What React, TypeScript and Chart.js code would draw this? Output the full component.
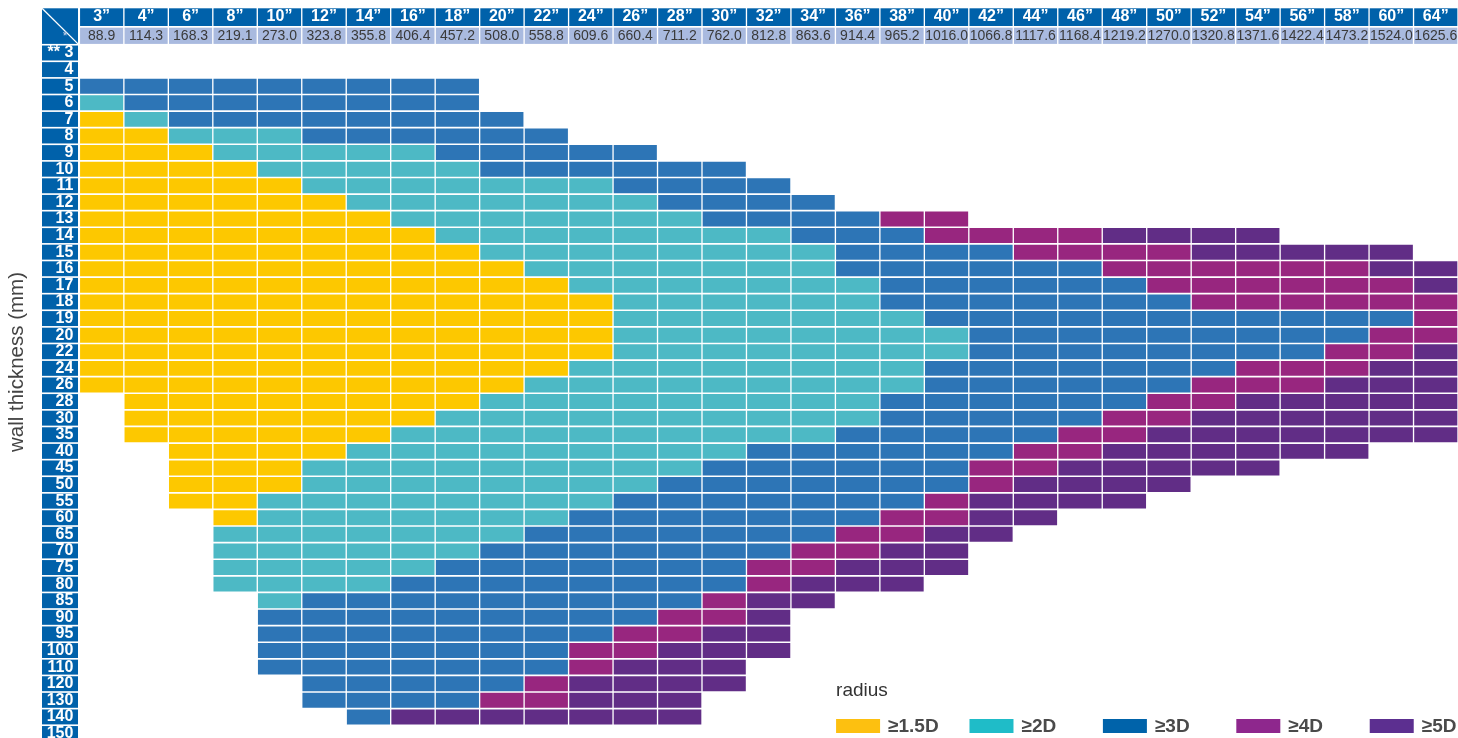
import React, { useEffect, useRef } from 'react';
import { Chart, registerables } from 'chart.js';

Chart.register(...registerables);

// Pipe outside diameters (columns)
const pipeInch = ['3”', '4”', '6”', '8”', '10”', '12”', '14”', '16”', '18”', '20”', '22”', '24”', '26”', '28”', '30”', '32”', '34”', '36”', '38”', '40”', '42”', '44”', '46”', '48”', '50”', '52”', '54”', '56”', '58”', '60”', '64”'];
const pipeMm = ['88.9', '114.3', '168.3', '219.1', '273.0', '323.8', '355.8', '406.4', '457.2', '508.0', '558.8', '609.6', '660.4', '711.2', '762.0', '812.8', '863.6', '914.4', '965.2', '1016.0', '1066.8', '1117.6', '1168.4', '1219.2', '1270.0', '1320.8', '1371.6', '1422.4', '1473.2', '1524.0', '1625.6'];

// Wall thickness (rows)
const wallMm = ['** 3', '4', '5', '6', '7', '8', '9', '10', '11', '12', '13', '14', '15', '16', '17', '18', '19', '20', '22', '24', '26', '28', '30', '35', '40', '45', '50', '55', '60', '65', '70', '75', '80', '85', '90', '95', '100', '110', '120', '130', '140', '150'];

// Minimum bend radius class per cell, as runs "code x count" from the 3” column
// 0 = not available, 1 = ≥1.5D, 2 = ≥2D, 3 = ≥3D, 4 = ≥4D, 5 = ≥5D
const wallRuns = [
  '',
  '',
  '3x9',
  '2x1 3x8',
  '1x1 2x1 3x8',
  '1x2 2x3 3x6',
  '1x3 2x5 3x5',
  '1x4 2x5 3x6',
  '1x5 2x7 3x4',
  '1x6 2x7 3x4',
  '1x7 2x7 3x4 4x2',
  '1x8 2x8 3x3 4x4 5x4',
  '1x9 2x8 3x4 4x4 5x5',
  '1x10 2x7 3x6 4x6 5x2',
  '1x11 2x7 3x6 4x6 5x1',
  '1x12 2x6 3x7 4x6',
  '1x12 2x7 3x11 4x1',
  '1x12 2x8 3x9 4x2',
  '1x12 2x8 3x8 4x2 5x1',
  '1x11 2x8 3x7 4x3 5x2',
  '1x10 2x9 3x6 4x3 5x3',
  '0x1 1x8 2x9 3x6 4x2 5x5',
  '0x1 1x7 2x10 3x5 4x2 5x6',
  '0x1 1x6 2x10 3x5 4x2 5x7',
  '0x2 1x4 2x9 3x6 4x2 5x6',
  '0x2 1x3 2x9 3x6 4x2 5x5',
  '0x2 1x3 2x8 3x7 4x1 5x4',
  '0x2 1x2 2x8 3x7 4x1 5x4',
  '0x3 1x1 2x7 3x7 4x2 5x2',
  '0x3 2x7 3x7 4x2 5x2',
  '0x3 2x6 3x7 4x2 5x2',
  '0x3 2x5 3x7 4x2 5x3',
  '0x3 2x4 3x8 4x1 5x3',
  '0x4 2x1 3x9 4x1 5x2',
  '0x4 3x9 4x2 5x1',
  '0x4 3x8 4x2 5x2',
  '0x4 3x7 4x2 5x3',
  '0x4 3x7 4x1 5x3',
  '0x5 3x5 4x1 5x4',
  '0x5 3x4 4x2 5x3',
  '0x6 3x1 5x7',
  '',
];

const radiusTitle = 'radius';
const radiusLabels = ['≥1.5D', '≥2D', '≥3D', '≥4D', '≥5D'];
const cellColors = ['#FDC800', '#4DB9C5', '#2D75B6', '#98267F', '#612D86'];
const legendColors = ['#FDC010', '#1FBCC8', '#0063AA', '#8E278D', '#5C2F90'];
const yTitle = 'wall thickness (mm)';

const HEADER_BLUE = '#0061AA';
const MM_BG = '#A9BADF';
const SANS = '"Liberation Sans", Arial, Helvetica, sans-serif';
const CAT_PCT = 0.97;

function decodeRow(runs: string): number[] {
  const out: number[] = [];
  runs.split(' ').filter(Boolean).forEach((tok) => {
    const [code, n] = tok.split('x').map(Number);
    for (let i = 0; i < n; i++) out.push(code);
  });
  while (out.length < pipeInch.length) out.push(0);
  return out;
}

const decorPlugin = {
  id: 'pipeDecor',
  beforeDraw(chart: any) {
    const { ctx, chartArea } = chart;
    const xs = chart.scales.x;
    const xm = chart.scales.xmm;
    const ys = chart.scales.y;
    const colW = xs.getPixelForTick(1) - xs.getPixelForTick(0);
    const cellW = colW * CAT_PCT;
    ctx.save();
    pipeInch.forEach((_, i) => {
      const cx = xs.getPixelForTick(i);
      ctx.fillStyle = HEADER_BLUE;
      ctx.fillRect(cx - cellW / 2, xs.top + 0.3, cellW, xs.bottom - xs.top - 1.3);
      ctx.fillStyle = MM_BG;
      ctx.fillRect(cx - cellW / 2, xm.top + 0.7, cellW, xm.bottom - xm.top - 1.5);
    });
    const boxL = chartArea.left - 37.4;
    const boxW = 36;
    ctx.fillStyle = HEADER_BLUE;
    wallMm.forEach((_, r) => {
      const t = ys.getPixelForValue(r + 0.05);
      const b = ys.getPixelForValue(r + 0.95);
      ctx.fillRect(boxL, t, boxW, b - t);
    });
    const ct = xs.top + 0.3;
    const cb = xm.bottom - 0.8;
    ctx.fillRect(boxL, ct, boxW, cb - ct);
    ctx.strokeStyle = '#ffffff';
    ctx.lineWidth = 1.3;
    ctx.beginPath();
    ctx.moveTo(boxL, ct);
    ctx.lineTo(boxL + boxW, cb);
    ctx.stroke();
    ctx.fillStyle = '#c9d3ea';
    ctx.font = `12px ${SANS}`;
    ctx.textAlign = 'center';
    ctx.textBaseline = 'middle';
    ctx.fillText('*', boxL + 23, cb - 7);
    ctx.restore();
  },
  afterDraw(chart: any) {
    const { ctx, chartArea } = chart;
    const xs = chart.scales.x;
    const colW = xs.getPixelForTick(1) - xs.getPixelForTick(0);
    const cellW = colW * CAT_PCT;
    ctx.save();
    // y title
    ctx.translate(17.5, 362);
    ctx.rotate(-Math.PI / 2);
    ctx.fillStyle = '#444444';
    ctx.font = `20.5px ${SANS}`;
    ctx.textAlign = 'center';
    ctx.textBaseline = 'middle';
    ctx.fillText(yTitle, 0, 0);
    ctx.restore();

    // legend
    ctx.save();
    ctx.textAlign = 'left';
    ctx.textBaseline = 'middle';
    const lx = xs.getPixelForTick(17) - cellW / 2;
    ctx.fillStyle = '#333333';
    ctx.font = `19px ${SANS}`;
    ctx.fillText(radiusTitle, lx, chartArea.bottom - 47);
    radiusLabels.forEach((lab, i) => {
      const sx = xs.getPixelForTick(17 + 3 * i) - cellW / 2;
      ctx.fillStyle = legendColors[i];
      ctx.fillRect(sx, chartArea.bottom - 19, 44, 14);
      ctx.fillStyle = '#4A4A4A';
      ctx.font = `bold 19px ${SANS}`;
      ctx.fillText(lab, sx + 52, chartArea.bottom - 11.5);
    });
    ctx.restore();
  },
};

export default function App() {
  const ref = useRef<HTMLCanvasElement>(null);

  useEffect(() => {
    const grid = wallRuns.map(decodeRow);
    const datasets = grid.map((row, r) => ({
      label: wallMm[r],
      data: row.map((code) => (code ? [r + 0.05, r + 0.95] : null)),
      backgroundColor: row.map((code) => (code ? cellColors[code - 1] : 'rgba(0,0,0,0)')),
      borderWidth: 0,
      grouped: false,
      barPercentage: 1,
      categoryPercentage: CAT_PCT,
    }));

    const noPad = (s: any) => {
      s.paddingTop = 0;
      s.paddingBottom = 0;
      s.paddingLeft = 0;
      s.paddingRight = 0;
    };

    const chart = new Chart(ref.current as HTMLCanvasElement, {
      type: 'bar',
      data: { labels: pipeInch, datasets: datasets as any },
      options: {
        animation: false,
        responsive: false,
        devicePixelRatio: 1,
        events: [],
        layout: { padding: { top: 8, left: 0, right: 0, bottom: 0 } },
        plugins: { legend: { display: false }, tooltip: { enabled: false }, title: { display: false } },
        scales: {
          x: {
            type: 'category',
            position: 'top',
            weight: 2,
            offset: true,
            grid: { display: false, drawTicks: false },
            border: { display: false },
            ticks: {
              color: '#ffffff',
              font: { family: SANS, size: 16, weight: 'bold' },
              padding: 0.5,
              autoSkip: false,
              maxRotation: 0,
              minRotation: 0,
            },
            afterFit: (s: any) => { s.height = 19; noPad(s); },
          },
          xmm: {
            type: 'category',
            position: 'top',
            weight: 1,
            offset: true,
            labels: pipeMm,
            grid: { display: false, drawTicks: false },
            border: { display: false },
            ticks: {
              color: '#3A3A3A',
              font: { family: SANS, size: 14 },
              padding: 0,
              autoSkip: false,
              maxRotation: 0,
              minRotation: 0,
            },
            afterFit: (s: any) => { s.height = 17.7; noPad(s); },
          },
          y: {
            type: 'linear',
            reverse: true,
            min: 0,
            max: 41.77,
            position: 'left',
            grid: { display: false, drawTicks: false },
            border: { display: false },
            afterBuildTicks: (s: any) => {
              s.ticks = wallMm.map((_, i) => ({ value: i + 0.5 }));
            },
            ticks: {
              color: '#ffffff',
              font: { family: SANS, size: 16, weight: 'bold' },
              padding: 6,
              autoSkip: false,
              callback: (v: any) => wallMm[Math.floor(Number(v))],
            },
            afterFit: (s: any) => { s.width = 79.4; noPad(s); },
          },
        },
      } as any,
      plugins: [decorPlugin],
    });
    return () => chart.destroy();
  }, []);

  return (
    <div style={{ position: 'fixed', left: 0, top: 0, width: 1458, height: 738, background: '#ffffff' }}>
      <canvas ref={ref} width={1458} height={738} style={{ display: 'block', width: 1458, height: 738 }} />
    </div>
  );
}
